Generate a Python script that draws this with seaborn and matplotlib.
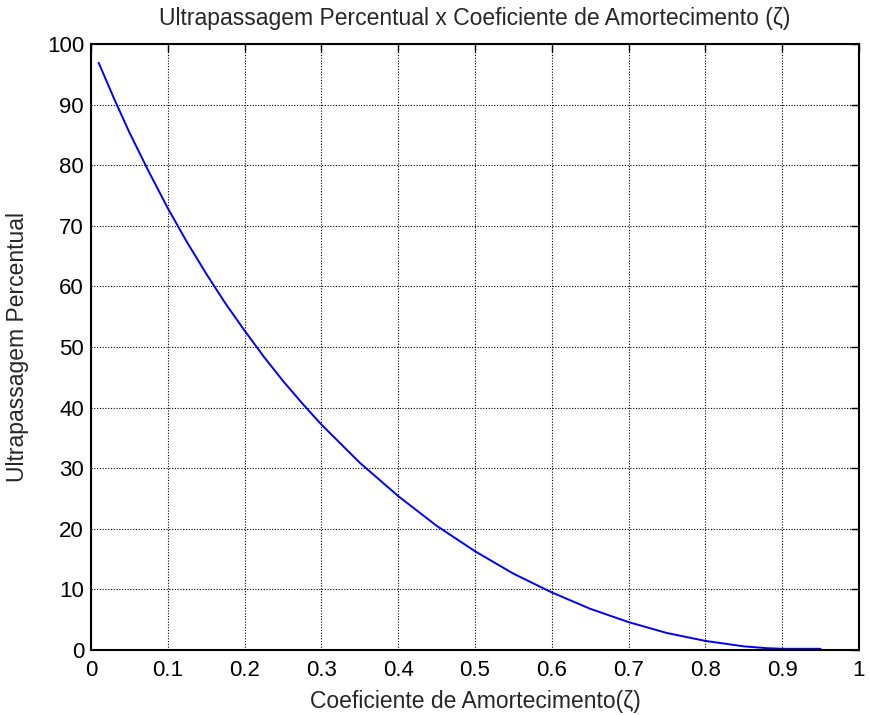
import matplotlib
matplotlib.use("Agg")
import matplotlib.pyplot as plt
import seaborn as sns
import pandas as pd

zeta = [0.01, 0.03, 0.05, 0.075, 0.10, 0.125, 0.15, 0.175, 0.20, 0.225, 0.25,
        0.275, 0.30, 0.35, 0.40, 0.45, 0.50, 0.55, 0.60, 0.65, 0.70, 0.75,
        0.80, 0.85, 0.88, 0.90, 0.95]
overshoot = [96.9, 91.0, 85.4, 79.0, 72.9, 67.3, 62.1, 57.2, 52.7, 48.4, 44.4,
             40.7, 37.2, 30.9, 25.4, 20.5, 16.3, 12.6, 9.5, 6.8, 4.6, 2.8,
             1.5, 0.6, 0.3, 0.2, 0.2]

xticks = [0, 0.1, 0.2, 0.3, 0.4, 0.5, 0.6, 0.7, 0.8, 0.9, 1]
xticklabels = ["0", "0.1", "0.2", "0.3", "0.4", "0.5", "0.6", "0.7", "0.8", "0.9", "1"]
yticks = [0, 10, 20, 30, 40, 50, 60, 70, 80, 90, 100]

df = pd.DataFrame({"zeta": zeta, "os": overshoot})

sns.set_style("white")
plt.rcParams["font.family"] = ["Liberation Sans", "DejaVu Sans"]

W, H = 869, 715
L, R, T, B = 91, 859, 44, 650
fig = plt.figure(figsize=(W / 100, H / 100), dpi=100)
ax = fig.add_axes([L / W, 1 - B / H, (R - L) / W, (B - T) / H])

sns.lineplot(data=df, x="zeta", y="os", ax=ax, color="#0000ff", linewidth=1.4)

ax.set_xlim(0, 1)
ax.set_ylim(0, 100)
ax.set_xticks(xticks)
ax.set_xticklabels(xticklabels)
ax.set_yticks(yticks)
ax.tick_params(direction="in", length=6, width=1, top=True, right=True,
               labelsize=16, colors="black")
ax.tick_params(axis="x", pad=7)
ax.tick_params(axis="y", pad=5)
ax.grid(True, color="black", linestyle=(0, (1, 1.5)), linewidth=0.8)
for s in ax.spines.values():
    s.set_color("black")
    s.set_linewidth(1.5)

fig.text((L + R) / 2 / W, 1 - 18 / H,
         "Ultrapassagem Percentual x Coeficiente de Amortecimento (ζ)",
         fontsize=16.5, ha="center", va="center")
ax.set_xlabel("Coeficiente de Amortecimento(ζ)", fontsize=16.5)
ax.set_ylabel("Ultrapassagem Percentual", fontsize=16.5)
ax.xaxis.set_label_coords(0.5, (B - 690) / (B - T))
ax.yaxis.set_label_coords((29 - L) / (R - L), 0.5)

fig.savefig("out.png", dpi=100, facecolor="white")
